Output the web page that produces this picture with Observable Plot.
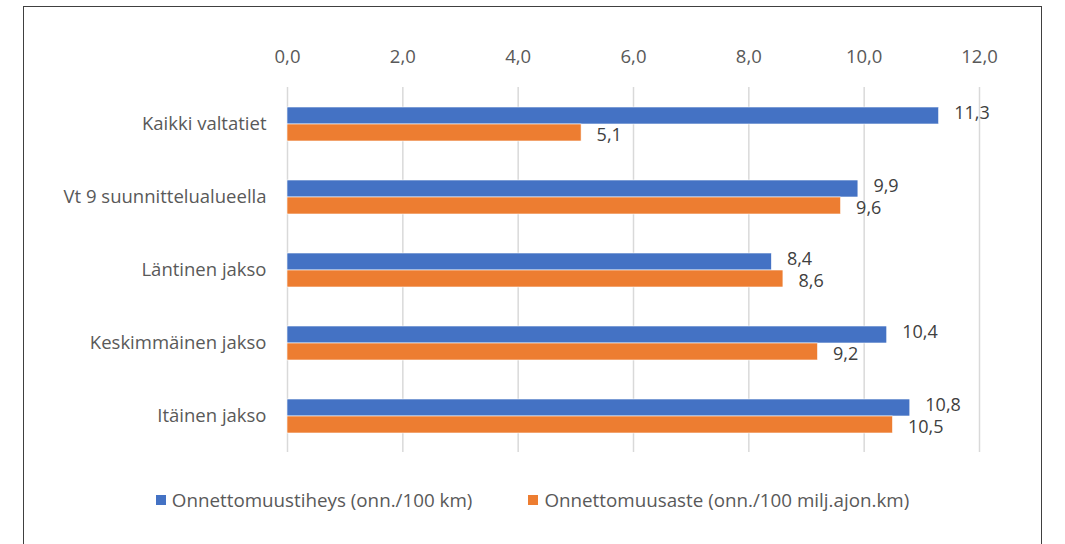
<!DOCTYPE html>
<html>
<head>
<meta charset="utf-8">
<script src="https://cdn.jsdelivr.net/npm/d3@7"></script>
<script src="https://cdn.jsdelivr.net/npm/@observablehq/plot@0.6"></script>
<style>
  html, body { margin: 0; padding: 0; background: #fff; }
  #wrap { position: relative; width: 1065px; height: 544px; overflow: hidden; font-family: "Open Sans", sans-serif; }
  #frame { position: absolute; left: 23px; top: 6px; width: 1019px; height: 600px; border: 1px solid #404040; box-sizing: border-box; }
  #chart { position: absolute; left: 0; top: 0; }
  #legend { position: absolute; left: 0; top: 487px; width: 1065px; display: flex; justify-content: center; gap: 56px; font-size: 18.8px; color: #595959; }
  .item { display: flex; align-items: center; }
  .swatch { width: 10px; height: 10px; margin-right: 6px; }
</style>
</head>
<body>
<div id="wrap">
  <div id="frame"></div>
  <div id="chart"></div>
  <div id="legend"></div>
</div>
<script>
// Accident density and accident rate by road section
const categories = ["Kaikki valtatiet", "Vt 9 suunnittelualueella", "Läntinen jakso", "Keskimmäinen jakso", "Itäinen jakso"];
const seriesNames = ["Onnettomuustiheys (onn./100 km)", "Onnettomuusaste (onn./100 milj.ajon.km)"];
const tiheys = [11.3, 9.9, 8.4, 10.4, 10.8];
const aste = [5.1, 9.6, 8.6, 9.2, 10.5];
const xTicks = [0, 2, 4, 6, 8, 10, 12];
const colors = ["#4472C4", "#ED7D31"];

const fmt = (d) => d.toFixed(1).replace(".", ",");

const rows = categories.flatMap((c, i) => [
  {category: c, series: seriesNames[0], value: tiheys[i]},
  {category: c, series: seriesNames[1], value: aste[i]}
]);

const chart = Plot.plot({
  width: 1065,
  height: 460,
  marginLeft: 287,
  marginRight: 86,
  marginTop: 85,
  marginBottom: 7,
  style: {fontFamily: "'Open Sans', sans-serif", fontSize: "18.5px", color: "#595959", background: "transparent"},
  x: {domain: [0, 12], ticks: xTicks},
  fy: {domain: categories, padding: 0},
  y: {domain: seriesNames, paddingInner: 0, paddingOuter: 1.1, axis: null},
  color: {domain: seriesNames, range: colors},
  marks: [
    Plot.gridX(xTicks, {stroke: "#d9d9d9", strokeOpacity: 1, strokeWidth: 1.5}),
    Plot.barX(rows, {x: "value", y: "series", fy: "category", fill: "series", stroke: "#fff", strokeWidth: 0.6}),
    // value labels: the upper series nudged up, the lower one down, so paired labels stay apart
    Plot.text(rows.filter((d) => d.series === seriesNames[0]), {x: "value", y: "series", fy: "category", text: (d) => fmt(d.value), textAnchor: "start", dx: 15, dy: -2.5, fill: "#404040", fontSize: 18}),
    Plot.text(rows.filter((d) => d.series === seriesNames[1]), {x: "value", y: "series", fy: "category", text: (d) => fmt(d.value), textAnchor: "start", dx: 15, dy: 2.5, fill: "#404040", fontSize: 18}),
    Plot.axisX(xTicks, {anchor: "top", tickSize: 0, tickPadding: 25, tickFormat: fmt, label: null}),
    Plot.axisFy({anchor: "left", tickSize: 0, tickPadding: 21, label: null})
  ]
});
document.getElementById("chart").appendChild(chart);

const legend = document.getElementById("legend");
seriesNames.forEach((name, i) => {
  const item = document.createElement("div");
  item.className = "item";
  const sw = document.createElement("span");
  sw.className = "swatch";
  sw.style.background = colors[i];
  const label = document.createElement("span");
  label.textContent = name;
  item.appendChild(sw);
  item.appendChild(label);
  legend.appendChild(item);
});
</script>
</body>
</html>
